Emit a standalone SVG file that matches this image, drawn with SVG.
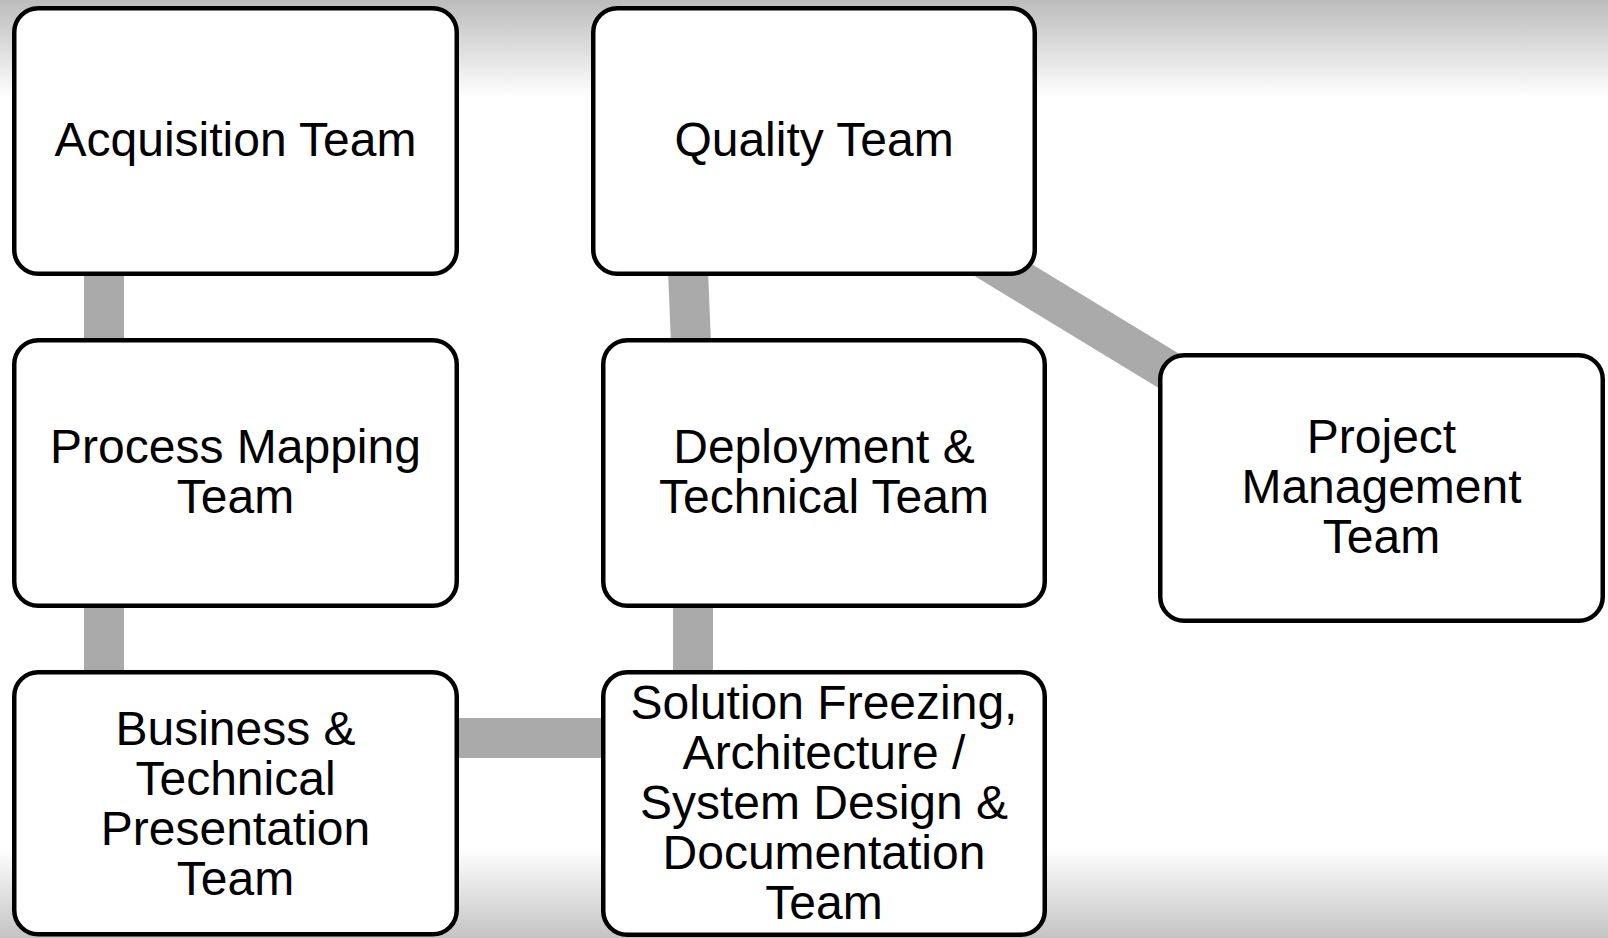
<svg xmlns="http://www.w3.org/2000/svg" width="1608" height="938" viewBox="0 0 1608 938">
<defs>
<linearGradient id="gTop" x1="0" y1="0" x2="0" y2="1">
<stop offset="0" stop-color="#bcbcbc"/>
<stop offset="1" stop-color="#ffffff"/>
</linearGradient>
<linearGradient id="gBot" x1="0" y1="0" x2="0" y2="1">
<stop offset="0" stop-color="#ffffff"/>
<stop offset="1" stop-color="#c4c4c4"/>
</linearGradient>
<style>
.box{fill:#ffffff;stroke:#000000;stroke-width:4.5}
.lbl{font-size:48px;fill:#000000;text-anchor:middle}
.conn{stroke:#aaaaaa;stroke-width:40;fill:none}
</style>
</defs>
<rect x="0" y="0" width="1608" height="938" fill="#ffffff"/>
<rect x="0" y="0" width="1608" height="98" fill="url(#gTop)"/>
<rect x="0" y="848" width="1608" height="90" fill="url(#gBot)"/>
<g id="connectors">
<line class="conn" x1="104" y1="270" x2="104" y2="344"/>
<line class="conn" x1="104" y1="602" x2="104" y2="676"/>
<line class="conn" x1="455" y1="738" x2="605" y2="738"/>
<line class="conn" x1="693" y1="602" x2="693" y2="676"/>
<line class="conn" x1="688" y1="270" x2="691" y2="344"/>
<line class="conn" x1="980" y1="256" x2="1220" y2="402"/>
</g>
<g font-family="Liberation Sans, Arial, sans-serif">
<g id="acquisition">
<rect class="box" x="14.25" y="8.25" width="442.5" height="265.5" rx="24"/>
<text class="lbl" x="235.5" y="156">Acquisition Team</text>
</g>
<g id="process-mapping">
<rect class="box" x="14.25" y="340.25" width="442.5" height="265.5" rx="24"/>
<text class="lbl" x="235.5" y="463">Process Mapping</text>
<text class="lbl" x="235.5" y="513">Team</text>
</g>
<g id="business-technical">
<rect class="box" x="14.25" y="672.25" width="442.5" height="262" rx="24"/>
<text class="lbl" x="235.5" y="745">Business &amp;</text>
<text class="lbl" x="235.5" y="795">Technical</text>
<text class="lbl" x="235.5" y="845">Presentation</text>
<text class="lbl" x="235.5" y="895">Team</text>
</g>
<g id="quality">
<rect class="box" x="593.25" y="8.25" width="441.5" height="265.5" rx="24"/>
<text class="lbl" x="814" y="156">Quality Team</text>
</g>
<g id="deployment">
<rect class="box" x="603.25" y="340.25" width="441.5" height="265.5" rx="24"/>
<text class="lbl" x="824" y="463">Deployment &amp;</text>
<text class="lbl" x="824" y="513">Technical Team</text>
</g>
<g id="solution">
<rect class="box" x="603.25" y="672.25" width="441.5" height="262.5" rx="24"/>
<text class="lbl" x="824" y="719">Solution Freezing,</text>
<text class="lbl" x="824" y="769">Architecture /</text>
<text class="lbl" x="824" y="819">System Design &amp;</text>
<text class="lbl" x="824" y="869">Documentation</text>
<text class="lbl" x="824" y="919">Team</text>
</g>
<g id="project-management">
<rect class="box" x="1160.25" y="355.25" width="442.5" height="265.5" rx="24"/>
<text class="lbl" x="1381.5" y="453">Project</text>
<text class="lbl" x="1381.5" y="503">Management</text>
<text class="lbl" x="1381.5" y="553">Team</text>
</g>
</g>
</svg>
